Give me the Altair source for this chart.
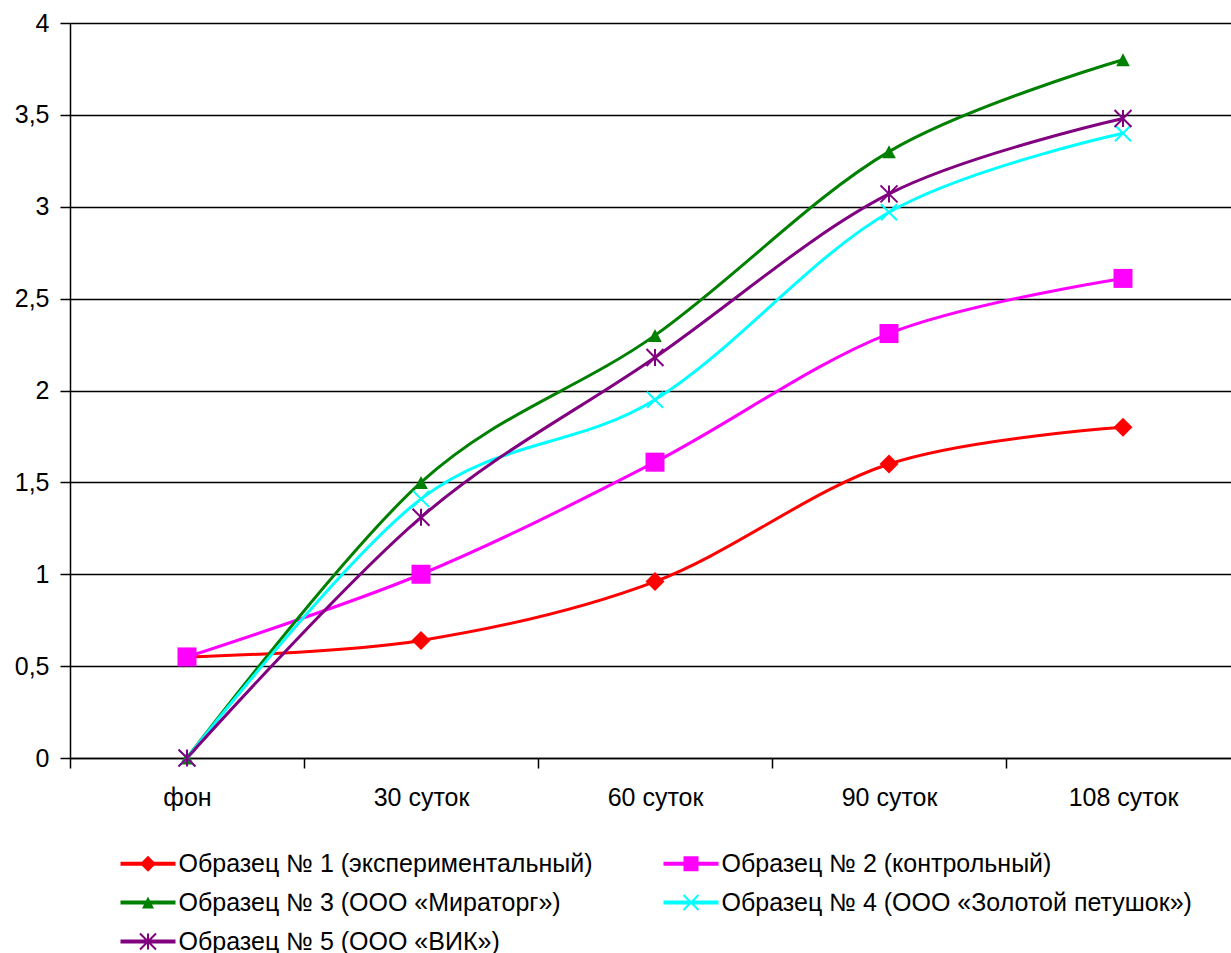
import json
import math

import altair as alt
import pandas as pd

# Sampling periods (x categories)
categories = ["фон", "30 суток", "60 суток", "90 суток", "108 суток"]

# Sample series
series_names = [
    "Образец № 1 (экспериментальный)",
    "Образец № 2 (контрольный)",
    "Образец № 3 (ООО «Мираторг»)",
    "Образец № 4 (ООО «Золотой петушок»)",
    "Образец № 5 (ООО «ВИК»)",
]
sample_1 = [0.55, 0.64, 0.96, 1.60, 1.80]
sample_2 = [0.55, 1.00, 1.61, 2.31, 2.61]
sample_3 = [0.00, 1.50, 2.30, 3.30, 3.80]
sample_4 = [0.00, 1.41, 1.95, 2.97, 3.40]
sample_5 = [0.00, 1.31, 2.18, 3.07, 3.48]

y_ticks = [0, 0.5, 1, 1.5, 2, 2.5, 3, 3.5, 4]
colors = ["#FF0000", "#FF00FF", "#008000", "#00FFFF", "#800080"]

rows = []
for name, vals in zip(series_names, [sample_1, sample_2, sample_3, sample_4, sample_5]):
    for i, (cat, v) in enumerate(zip(categories, vals)):
        rows.append({"series": name, "period": cat, "pos": i + 0.5, "value": v, "order": i})
df = pd.DataFrame(rows)

# ---- layout ----
PLOT_W, PLOT_H = 1161, 735
STEP = 234                       # width of one category band in px
X_MAX = PLOT_W / STEP            # the last band runs slightly past the right edge

# ---- marker symbols (custom SVG paths, drawn at size 400 -> 10 px per unit) ----
SYM_SIZE = 400
K = math.sqrt(SYM_SIZE) / 2


def poly(pts):
    return "M" + "L".join(f"{x / K:.3f},{y / K:.3f}" for x, y in pts) + "Z"


def diamond(h):
    return poly([(0, -h), (h, 0), (0, h), (-h, 0)])


def square(h):
    return poly([(-h, -h), (h, -h), (h, h), (-h, h)])


def triangle(w, h):
    return poly([(0, -h), (w, h), (-w, h)])


def xmark(h, t):
    a = t / (2 * math.sqrt(2))
    d1 = poly([(-h + a, -h - a), (h + a, h - a), (h - a, h + a), (-h - a, -h + a)])
    d2 = poly([(-h - a, h - a), (h - a, -h - a), (h + a, -h + a), (-h + a, h + a)])
    return d1 + d2


def asterisk(h, t):
    return xmark(h, t) + poly([(-t / 2, -h), (t / 2, -h), (t / 2, h), (-t / 2, h)])


def legend_line(half_len, t):
    return poly([(-half_len, -t / 2), (half_len, -t / 2), (half_len, t / 2), (-half_len, t / 2)])


marker_paths = [
    diamond(9.5),
    square(9.5),
    triangle(6.8, 6.5),
    xmark(8, 2),
    asterisk(8.5, 2),
]

LEG_HALF = 27.5
legend_paths = [
    legend_line(LEG_HALF, 4) + diamond(8),
    legend_line(LEG_HALF, 4) + square(7.5),
    legend_line(LEG_HALF, 4) + triangle(6, 6),
    legend_line(LEG_HALF, 4) + xmark(7.5, 2),
    legend_line(LEG_HALF, 4) + asterisk(8, 2),
]

FONT = "Liberation Sans"

label_expr = json.dumps(categories, ensure_ascii=False) + "[datum.value]"

x_enc = alt.X(
    "pos:Q",
    scale=alt.Scale(domain=[0, X_MAX], nice=False, zero=False),
    axis=alt.Axis(
        values=[0, 1, 2, 3, 4],
        labelExpr=label_expr,
        labelOffset=STEP / 2,
        labelAlign="center",
        labelOverlap=False,
        labelBound=False,
        labelFlush=False,
        grid=False,
        tickSize=10,
        labelPadding=17,
        title=None,
    ),
)
y_enc = alt.Y(
    "value:Q",
    scale=alt.Scale(domain=[0, 4], nice=False),
    axis=alt.Axis(
        values=y_ticks,
        labelExpr="replace(format(datum.value, '~g'), '.', ',')",
        grid=True,
        tickSize=10,
        labelPadding=11,
        title=None,
    ),
)

color_scale = alt.Scale(domain=series_names, range=colors)

lines = alt.Chart(df).mark_line(interpolate="cardinal", strokeWidth=3).encode(
    x=x_enc,
    y=y_enc,
    color=alt.Color("series:N", scale=color_scale, legend=None),
    order="order:Q",
)

markers = alt.Chart(df).mark_point(filled=True, size=SYM_SIZE, strokeWidth=0, opacity=1).encode(
    x=x_enc,
    y=y_enc,
    color=alt.Color("series:N", scale=color_scale, legend=None),
    shape=alt.Shape("series:N", scale=alt.Scale(domain=series_names, range=marker_paths), legend=None),
)

legend = alt.Legend(
    title=None,
    orient="none",
    direction="horizontal",
    legendX=48,
    legendY=828,
    columns=2,
    columnPadding=68,
    rowPadding=13,
    padding=0,
    symbolSize=SYM_SIZE,
    symbolStrokeWidth=0,
    symbolOffset=LEG_HALF - 10,
    labelOffset=18,
    labelFont=FONT,
    labelFontSize=25,
    labelColor="#000000",
    labelLimit=0,
)

legend_layer = alt.Chart(df).transform_filter("false").mark_point(
    filled=True, size=SYM_SIZE, strokeWidth=0, opacity=1
).encode(
    x=x_enc,
    y=y_enc,
    color=alt.Color("series:N", scale=color_scale, legend=legend),
    shape=alt.Shape("series:N", scale=alt.Scale(domain=series_names, range=legend_paths), legend=legend),
)

chart = (
    alt.layer(lines, markers, legend_layer)
    .resolve_scale(color="independent", shape="independent")
    .properties(
        width=PLOT_W,
        height=PLOT_H,
        autosize=alt.AutoSizeParams(type="none"),
        padding={"left": 70, "top": 23, "right": 0, "bottom": 195},
        background="#FFFFFF",
    )
    .configure_view(stroke=None)
    .configure_axis(
        domainColor="#000000",
        domainWidth=1.5,
        tickColor="#000000",
        tickWidth=1.5,
        gridColor="#000000",
        gridWidth=1.5,
        gridOpacity=1,
        labelColor="#000000",
        labelFont=FONT,
        labelFontSize=25,
    )
)

chart.save("out.html", embed_options={"renderer": "svg", "actions": False})
